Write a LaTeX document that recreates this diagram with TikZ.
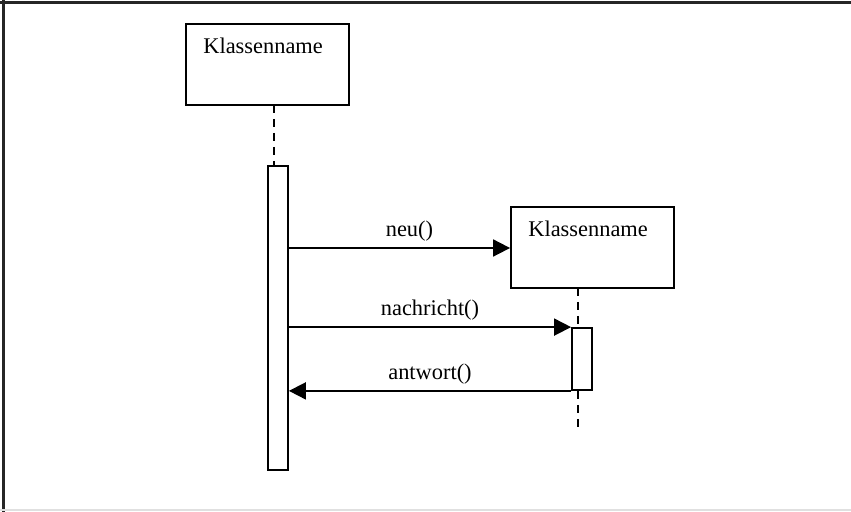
\documentclass[tikz,border=0pt]{standalone}
\usepackage{fontspec}
\setmainfont{Liberation Serif}
\usetikzlibrary{arrows.meta}
\begin{document}
\begin{tikzpicture}[x=0.5pt,y=-0.5pt,
  every node/.style={font=\fontsize{11.2pt}{13pt}\selectfont},
  objbox/.style={draw,line width=0.9pt,minimum width=81.5pt,minimum height=40.5pt,inner sep=0pt},
  objname/.style={anchor=north,inner sep=0pt,yshift=-7pt,xshift=-2.2pt},
  actbar/.style={draw,line width=0.9pt,fill=white,minimum width=10pt,inner sep=0pt},
  life/.style={dashed,line width=0.7pt,dash pattern=on 4pt off 3pt},
  msg/.style={line width=0.9pt,-{Triangle[length=8.5pt,width=8.5pt]}},
  msglabel/.style={anchor=base,inner sep=0pt,yshift=5.8pt}]
\useasboundingbox (0,0) rectangle (851,512);
% outer frame
\draw[line width=1.5pt,black!85] (0,2.5) -- (851,2.5);
\draw[line width=1.5pt,black!85] (3,0) -- (3,512);
\draw[line width=1pt,black!12] (0,510.5) -- (851,510.5);

% first object with its lifeline and activation
\node[objbox] (obj1) at (267.5,64.5) {};
\node[objname] (name1) at (obj1.north) {Klassenname};
\node[actbar,minimum height=152pt] (act1) at (278,318) {};
\coordinate (l1) at (274,105);
\draw[life] (l1) -- (l1 |- act1.north);

% second object, created by neu()
\node[objbox] (obj2) at (592.5,247.5) {};
\node[objname] (name2) at (obj2.north) {Klassenname};
\coordinate (l2) at (578,288);
\coordinate (l2end) at (578,432);
\node[actbar,minimum height=31pt] (act2) at (582,359) {};
\draw[life] (l2) -- (l2 |- act2.north);
\draw[life] (l2 |- act2.south) -- (l2end);

% messages
\draw[msg] (act1.east |- 0,248) -- node[msglabel,pos=0.545] {neu()} (obj2.west |- 0,248);
\draw[msg] (act1.east |- act2.north) -- node[msglabel,pos=0.5] {nachricht()} (act2.north west);
\draw[msg] (act2.south west) -- node[msglabel,pos=0.5] {antwort()} (act1.east |- act2.south);
\end{tikzpicture}
\end{document}
